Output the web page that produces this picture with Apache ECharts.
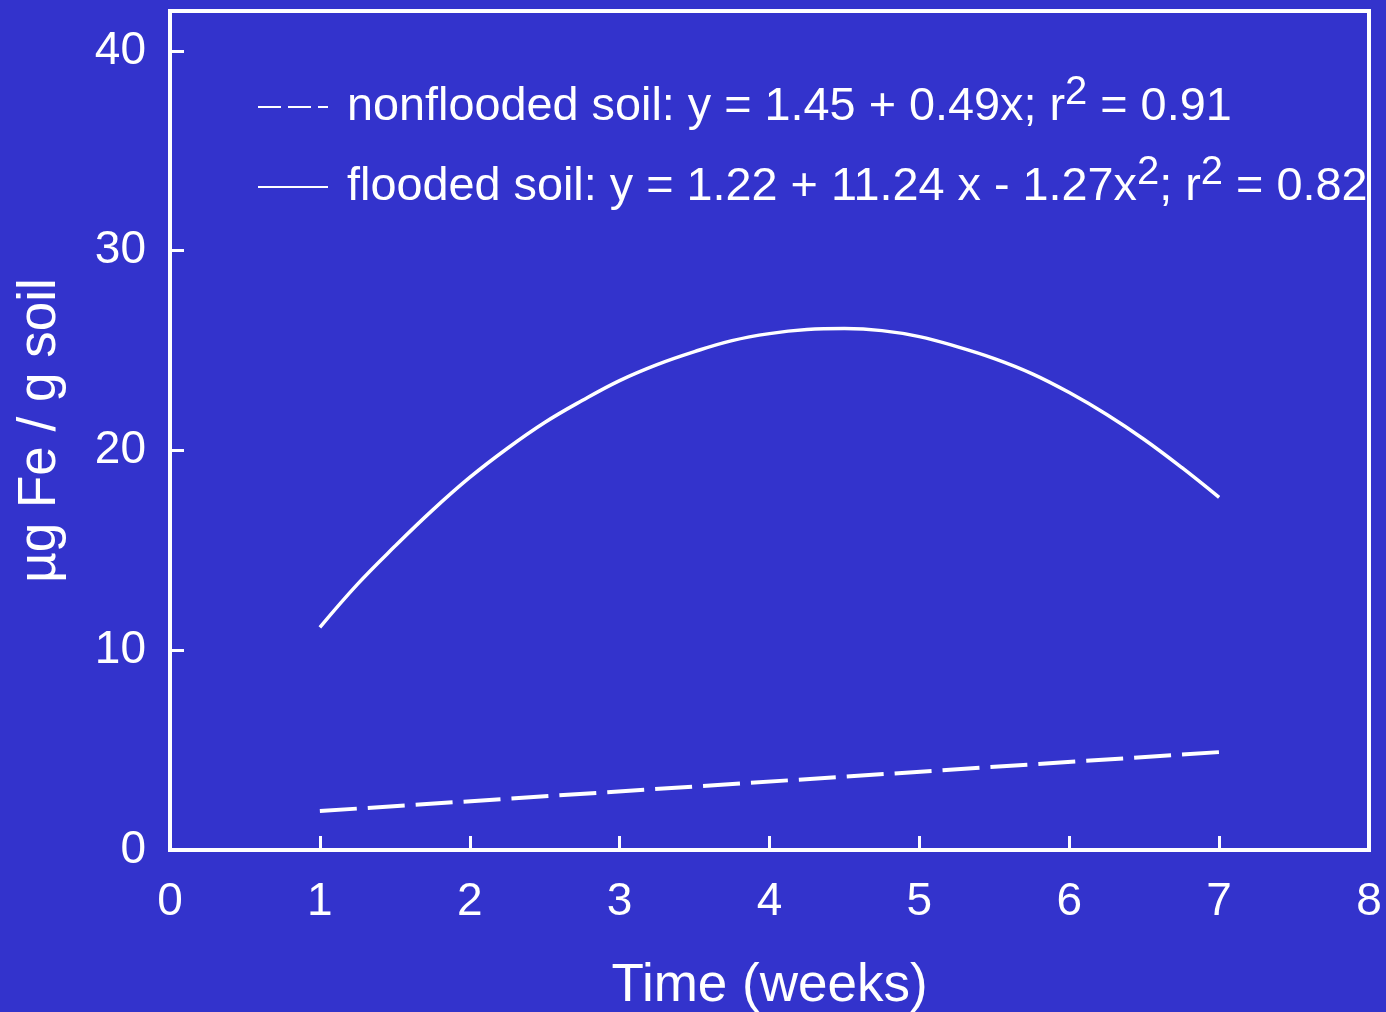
<!DOCTYPE html>
<html>
<head>
<meta charset="utf-8">
<script src="https://cdn.jsdelivr.net/npm/echarts@6/dist/echarts.min.js"></script>
<style>
  html, body { margin: 0; padding: 0; background: #3333cc; }
  #chart { width: 1386px; height: 1012px; }
</style>
</head>
<body>
<div id="chart"></div>
<script>
// values
var weeks = [1, 1.25, 1.5, 1.75, 2, 2.25, 2.5, 2.75, 3, 3.25, 3.5, 3.75, 4, 4.25, 4.5, 4.75, 5, 5.25, 5.5, 5.75, 6, 6.25, 6.5, 6.75, 7]
var flooded = [11.15, 13.3, 15.2, 17.0, 18.65, 20.1, 21.4, 22.5, 23.5, 24.3, 24.95, 25.5, 25.85, 26.05, 26.1, 26.0, 25.7, 25.2, 24.6, 23.85, 22.9, 21.8, 20.55, 19.15, 17.65]
var nonfloodedWeeks = [1, 7]
var nonflooded = [1.95, 4.9]
var xTicks = [0, 1, 2, 3, 4, 5, 6, 7, 8]
var yTicks = [0, 10, 20, 30, 40]

var nonfloodedLabel = 'nonflooded soil: y = 1.45 + 0.49x; r{sup|2} = 0.91'
var floodedLabel = 'flooded soil: y = 1.22 + 11.24 x - 1.27x{sup|2}; r{sup|2} = 0.82'

function pairs(xs, ys) {
  return xs.map(function (x, i) { return [x, ys[i]] })
}

var font = '"Liberation Sans", Arial, sans-serif'
var chart = echarts.init(document.getElementById('chart'))

chart.setOption({
  backgroundColor: '#3333cc',
  animation: false,
  textStyle: { fontFamily: font, color: '#fff' },
  grid: {
    left: 170, right: 17, top: 11, bottom: 162,
    show: true, borderColor: '#fff', borderWidth: 4,
    outerBoundsMode: 'none',
    containLabel: false
  },
  legend: {
    orient: 'vertical',
    left: 257, top: 73,
    padding: 0,
    itemWidth: 70, itemHeight: 20,
    itemGap: 12,
    selectedMode: false,
    itemStyle: { opacity: 0 },
    data: [
      { name: 'nonflooded', lineStyle: { type: [23, 7], width: 2 } },
      { name: 'flooded', lineStyle: { type: 'solid', width: 2 } }
    ],
    formatter: function (name) {
      return name === 'flooded' ? floodedLabel : nonfloodedLabel
    },
    textStyle: {
      color: '#fff', fontSize: 46.8, fontFamily: font,
      padding: [0, 0, 0, 14],
      lineHeight: 50,
      rich: {
        sup: { color: '#fff', fontSize: 40, fontFamily: font, padding: [0, 0, 28, 0], lineHeight: 40 }
      }
    }
  },
  xAxis: {
    type: 'value',
    min: xTicks[0], max: xTicks[xTicks.length - 1], interval: 1,
    name: 'Time (weeks)',
    nameLocation: 'middle', nameGap: 110,
    nameTextStyle: { color: '#fff', fontSize: 53, fontFamily: font },
    axisLine: { lineStyle: { color: '#fff', width: 4 } },
    axisTick: { inside: true, length: 14, lineStyle: { color: '#fff', width: 3 } },
    axisLabel: { color: '#fff', fontSize: 46, fontFamily: font, margin: 29, showMaxLabel: true, showMinLabel: true },
    splitLine: { show: false }
  },
  yAxis: {
    type: 'value',
    min: yTicks[0], max: 42, interval: 10,
    name: 'µg Fe / g soil',
    nameLocation: 'middle', nameGap: 103,
    nameTextStyle: { color: '#fff', fontSize: 53, fontFamily: font },
    axisLine: { lineStyle: { color: '#fff', width: 4 } },
    axisTick: { inside: true, length: 14, lineStyle: { color: '#fff', width: 3 } },
    axisLabel: {
      color: '#fff', fontSize: 46, fontFamily: font, margin: 24,
      showMaxLabel: false,
      formatter: function (v) { return yTicks.indexOf(v) >= 0 ? String(v) : '' }
    },
    splitLine: { show: false }
  },
  series: [
    {
      name: 'nonflooded',
      type: 'line',
      symbol: 'none',
      data: pairs(nonfloodedWeeks, nonflooded),
      lineStyle: { color: '#fff', width: 4, type: [37, 11] },
      itemStyle: { color: '#fff' }
    },
    {
      name: 'flooded',
      type: 'line',
      symbol: 'none',
      smooth: 0.4,
      data: pairs(weeks, flooded),
      lineStyle: { color: '#fff', width: 3.5 },
      itemStyle: { color: '#fff' }
    }
  ]
})
</script>
</body>
</html>
